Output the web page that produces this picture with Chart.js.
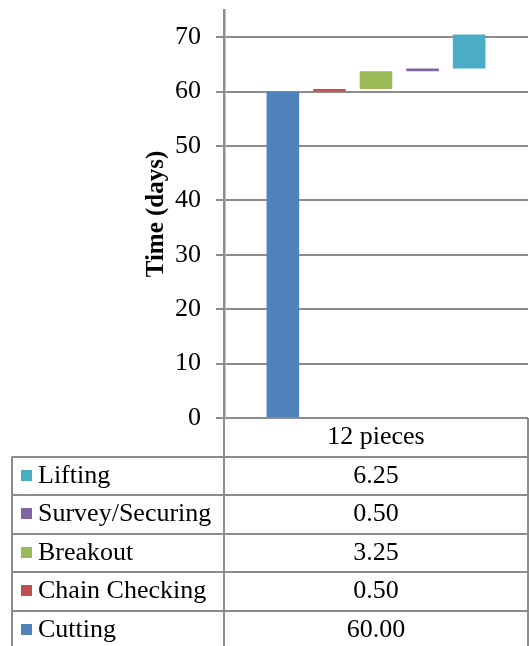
<!DOCTYPE html>
<html>
<head>
<meta charset="utf-8">
<script src="https://cdn.jsdelivr.net/npm/chart.js@4"></script>
<style>
  html, body { margin: 0; padding: 0; background: #ffffff; }
  canvas { display: block; }
</style>
</head>
<body>
<canvas id="c" width="529" height="646"></canvas>
<script>
// Activity durations (days) for one batch of pieces
const categories = ['12 pieces'];
const activities = ['Cutting', 'Chain Checking', 'Breakout', 'Survey/Securing', 'Lifting'];
const durations = [60.00, 0.50, 3.25, 0.50, 6.25];
const colors = ['#4F81BD', '#C0504D', '#9BBB59', '#8064A2', '#4BACC6'];
const yTicks = [0, 10, 20, 30, 40, 50, 60, 70];

const FONT = "'Liberation Serif', 'Times New Roman', serif";
const LINE = '#8c8c8c';

// Each activity begins where the previous one finished
let running = 0;
const datasets = activities.map((name, i) => {
  const start = running;
  running += durations[i];
  return {
    label: name,
    data: [[start, running]],
    backgroundColor: colors[i],
    borderWidth: 0,
    barPercentage: 0.70,
    categoryPercentage: 0.766
  };
});

// Data table under the plot: category row, then one row per activity (last first)
const dataTable = {
  id: 'dataTable',
  afterDraw(chart) {
    const ctx = chart.ctx;
    const ca = chart.chartArea;
    const xs = chart.scales.x;
    const left = 12, mid = ca.left, right = ca.right;
    const rowH = 38.5;
    const top = ca.bottom;
    const bottom = chart.height + 5;
    const colCenter = xs.getPixelForValue(0);

    ctx.save();
    ctx.strokeStyle = LINE;
    ctx.lineWidth = 2;
    ctx.beginPath();
    for (let r = 1; r <= 6; r++) {
      const y = Math.round(top + r * rowH);
      ctx.moveTo(left, y);
      ctx.lineTo(right, y);
    }
    ctx.moveTo(left, top + rowH);
    ctx.lineTo(left, bottom);
    ctx.moveTo(mid, top);
    ctx.lineTo(mid, bottom);
    ctx.moveTo(right, top);
    ctx.lineTo(right, bottom);
    ctx.stroke();

    ctx.fillStyle = '#000';
    ctx.font = '26px ' + FONT;
    ctx.textBaseline = 'middle';
    ctx.textAlign = 'center';
    ctx.fillText(categories[0], colCenter, top + rowH / 2);

    const order = activities.map((_, i) => i).reverse();
    order.forEach((idx, r) => {
      const cy = top + (r + 1.5) * rowH;
      ctx.fillStyle = colors[idx];
      ctx.fillRect(21, Math.round(cy - 6), 11, 11);
      ctx.fillStyle = '#000';
      ctx.textAlign = 'left';
      ctx.fillText(activities[idx], 38, cy);
      ctx.textAlign = 'center';
      ctx.fillText(durations[idx].toFixed(2), colCenter, cy);
    });
    ctx.restore();
  }
};

new Chart(document.getElementById('c'), {
  type: 'bar',
  data: { labels: categories, datasets: datasets },
  options: {
    responsive: false,
    animation: false,
    devicePixelRatio: 1,
    layout: { padding: { top: 10, right: 1, bottom: 228, left: 0 } },
    plugins: {
      legend: { display: false },
      tooltip: { enabled: false }
    },
    scales: {
      x: { display: false },
      y: {
        min: 0,
        max: 75,
        afterBuildTicks: (scale) => { scale.ticks = yTicks.map(v => ({ value: v })); },
        afterFit: (scale) => {
          scale.width = 224;
          scale.paddingTop = 0;
          scale.paddingBottom = 0;
        },
        ticks: {
          color: '#000',
          font: { family: FONT, size: 26 },
          padding: 15
        },
        grid: {
          color: LINE,
          lineWidth: 2,
          tickLength: 8,
          drawTicks: true
        },
        border: { color: LINE, width: 2.5 },
        title: {
          display: true,
          text: 'Time (days)',
          color: '#000',
          font: { family: FONT, size: 25, weight: 'bold' },
          padding: { top: 142, bottom: 0 }
        }
      }
    }
  },
  plugins: [dataTable]
});
</script>
</body>
</html>
